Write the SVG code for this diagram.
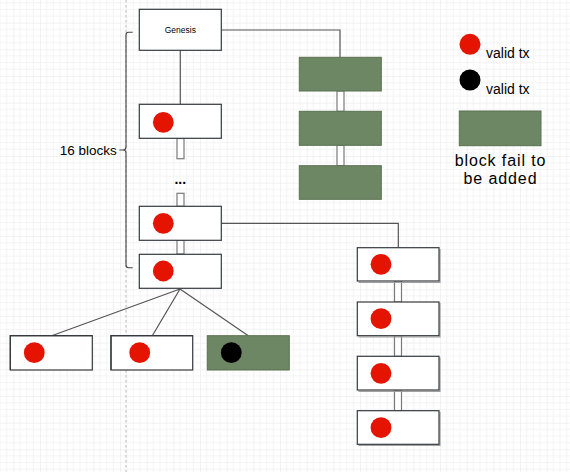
<svg xmlns="http://www.w3.org/2000/svg" width="570" height="472" viewBox="0 0 570 472">
<defs>
<pattern id="grid" patternUnits="userSpaceOnUse" x="13.333" y="22.667" width="26.667" height="26.667">
<path d="M6.667 0V26.667M13.333 0V26.667M20 0V26.667M0 6.667H26.667M0 13.333H26.667M0 20H26.667" stroke="#f4f4f4" stroke-width="1" fill="none"/>
<path d="M0 0V26.667M0 0H26.667" stroke="#e6e6e6" stroke-width="1" fill="none"/>
</pattern>
<style>
.blk{fill:#ffffff;stroke:#36393d;stroke-width:1.2}
.sh{fill:none;stroke:#a0a0a0;stroke-width:1.2}
.grn{fill:#6d8764;stroke:#5a7150;stroke-width:1}
.lnk{fill:#ffffff;stroke:#7a7a7a;stroke-width:1.2}
.red{fill:#e51400}
.blk-dot{fill:#000000}
.edge{fill:none;stroke:#555555;stroke-width:1.2}
.t{font-family:"Liberation Sans",Arial,sans-serif;fill:#000000}
</style>
</defs>
<rect width="570" height="472" fill="#ffffff"/>
<rect width="570" height="472" fill="url(#grid)"/>
<line x1="126" y1="0" x2="126" y2="472" stroke="#d0d0d0" stroke-width="1.5" stroke-dasharray="2.5,2.5"/>

<g id="connectors">
<path class="edge" d="M221 30H340V57.3"/>
<path class="edge" d="M180.3 50.3V104.3" stroke="#222"/>
<path class="edge" d="M221 223.3H398.3V247.7"/>
<path class="edge" d="M180 289L51.7 335.7M180 289L152.3 335.7M180 289L248.3 335.7"/>
<rect class="lnk" x="177" y="138.5" width="7" height="20.2"/>
<rect class="lnk" x="177" y="193.3" width="7" height="13"/>
<rect class="lnk" x="177" y="240.3" width="7" height="13.7"/>
<rect class="lnk" x="337" y="91" width="7" height="20.3"/>
<rect class="lnk" x="337" y="145.3" width="7" height="20.4"/>
<rect class="lnk" x="394.5" y="281" width="7" height="21"/>
<rect class="lnk" x="394.5" y="335.7" width="7" height="20.6"/>
<rect class="lnk" x="394.5" y="390" width="7" height="20.7"/>
</g>

<g id="genesis">
<rect class="blk" x="139.3" y="9.3" width="82" height="41"/>
<text class="t" x="180.3" y="33" font-size="8.5" text-anchor="middle">Genesis</text>
</g>
<g id="block1">
<rect class="blk" x="139.3" y="104.3" width="82" height="34"/>
<circle class="red" cx="163.3" cy="122.3" r="10.4"/>
</g>
<g id="ellipsis">
<text class="t" x="180.3" y="184" font-size="14" font-weight="bold" text-anchor="middle">...</text>
</g>
<g id="block15">
<rect class="blk" x="139.3" y="206.3" width="82" height="34"/>
<circle class="red" cx="163.3" cy="223.3" r="10.4"/>
</g>
<g id="block16">
<rect class="blk" x="139.3" y="254.3" width="82" height="34"/>
<circle class="red" cx="163.3" cy="271" r="10.4"/>
</g>

<g id="fail1"><rect class="grn" x="299.3" y="57.3" width="82" height="33.7"/></g>
<g id="fail2"><rect class="grn" x="299.3" y="111.3" width="82" height="34"/></g>
<g id="fail3"><rect class="grn" x="299.3" y="165.7" width="82" height="33.6"/></g>

<g id="fork1">
<path class="sh" d="M440 249V282.5H358.5"/>
<rect class="blk" x="357.3" y="247.7" width="81.7" height="33.3"/>
<circle class="red" cx="381" cy="264.3" r="10.4"/>
</g>
<g id="fork2">
<path class="sh" d="M440 303V337H358.5"/>
<rect class="blk" x="357.3" y="302" width="81.7" height="33.7"/>
<circle class="red" cx="381" cy="318.7" r="10.4"/>
</g>
<g id="fork3">
<path class="sh" d="M440 357.5V391.3H358.5"/>
<rect class="blk" x="357.3" y="356.3" width="81.7" height="33.7"/>
<circle class="red" cx="381" cy="373.3" r="10.4"/>
</g>
<g id="fork4">
<path class="sh" d="M440 412V445.5H358.5"/>
<rect class="blk" x="357.3" y="410.7" width="81.7" height="33.6"/>
<circle class="red" cx="381" cy="427.7" r="10.4"/>
</g>

<g id="child1">
<rect class="blk" x="10.3" y="335.7" width="82" height="34.3" stroke="#888"/>
<path d="M10.3 370V335.7H92.3" fill="none" stroke="#36393d" stroke-width="1.2"/>
<circle class="red" cx="34.3" cy="352.7" r="10.4"/>
</g>
<g id="child2">
<rect class="blk" x="111" y="335.7" width="81.7" height="34.3" stroke="#888"/>
<path d="M111 370V335.7H192.7" fill="none" stroke="#36393d" stroke-width="1.2"/>
<circle class="red" cx="139.7" cy="352.7" r="10.4"/>
</g>
<g id="child3">
<rect class="grn" x="207.3" y="335.7" width="82" height="34.3"/>
<circle class="blk-dot" cx="231.3" cy="352.7" r="10.4"/>
</g>

<g id="brace">
<path d="M132.7 32.3H128.5Q126 32.3 126 35V147Q126 150 123 150H119.3M123 150Q126 150 126 153V265Q126 267.7 128.5 267.7H132.7" fill="none" stroke="#444" stroke-width="1.1"/>
<text class="t" x="116.7" y="155" font-size="13.5" text-anchor="end">16 blocks</text>
</g>

<g id="legend">
<circle class="red" cx="470" cy="44.3" r="10.5"/>
<text class="t" x="486" y="58.3" font-size="14">valid tx</text>
<circle class="blk-dot" cx="470" cy="80" r="10.5"/>
<text class="t" x="486" y="94" font-size="14">valid tx</text>
<rect class="grn" x="459.3" y="111" width="81.7" height="34.7"/>
<text class="t" x="500.5" y="165.7" font-size="16" letter-spacing="0.9" text-anchor="middle">block fail to</text>
<text class="t" x="500.5" y="184.3" font-size="16" letter-spacing="0.9" text-anchor="middle">be added</text>
</g>
</svg>
